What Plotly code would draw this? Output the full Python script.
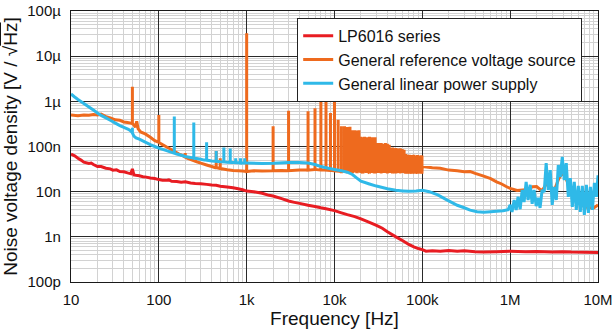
import plotly.graph_objects as go

# ---------------- data ----------------
# LP6016 series
red_f = [10, 11, 12, 13, 14, 16, 17, 18, 20, 22, 25, 28, 30, 33, 36, 40, 44, 48, 50, 52, 55, 60, 66, 72,
         80, 90, 100, 110, 120, 130, 140, 160, 180, 200, 230, 260, 300, 350, 400, 450, 500, 600, 700, 800,
         900, 1000, 1200, 1500, 1800, 2000, 2500, 3000, 3500, 4000, 5000, 6000, 7000, 8000, 10000, 12000,
         14000, 17000, 20000, 25000, 30000, 35000, 40000, 50000, 60000, 70000, 80000, 90000, 100000,
         110000, 130000, 160000, 200000, 250000, 300000, 400000, 500000, 700000, 1e6, 1.5e6, 2e6, 3e6,
         4e6, 5e6, 7e6, 1e7]
red_v = [6.8e-8, 6.2e-8, 5.5e-8, 5.0e-8, 4.5e-8, 4.2e-8, 4.3e-8, 4.0e-8, 3.6e-8, 3.6e-8, 3.3e-8, 3.2e-8,
         3.0e-8, 3.05e-8, 2.8e-8, 2.75e-8, 2.6e-8, 2.5e-8, 3.2e-8, 2.35e-8, 2.3e-8, 2.25e-8, 2.15e-8, 2.1e-8,
         2.0e-8, 1.95e-8, 1.85e-8, 1.8e-8, 1.78e-8, 1.82e-8, 1.7e-8, 1.68e-8, 1.62e-8, 1.65e-8, 1.55e-8,
         1.52e-8, 1.5e-8, 1.45e-8, 1.4e-8, 1.38e-8, 1.32e-8, 1.27e-8, 1.22e-8, 1.16e-8, 1.1e-8, 1.03e-8,
         1.0e-8, 9.2e-9, 8.3e-9, 8.0e-9, 7.0e-9, 6.2e-9, 5.8e-9, 5.5e-9, 5.0e-9, 4.7e-9, 4.4e-9, 4.2e-9,
         3.8e-9, 3.4e-9, 3.1e-9, 2.8e-9, 2.5e-9, 2.1e-9, 1.8e-9, 1.55e-9, 1.3e-9, 1.0e-9, 8.2e-10, 6.8e-10,
         6.0e-10, 5.5e-10, 5.2e-10, 4.8e-10, 4.9e-10, 4.8e-10, 5.0e-10, 4.8e-10, 4.9e-10, 4.7e-10, 4.6e-10,
         4.7e-10, 4.8e-10, 4.7e-10, 4.75e-10, 4.6e-10, 4.7e-10, 4.6e-10, 4.55e-10, 4.5e-10]

# General reference voltage source: underlying curve
orange_f = [10, 12, 14, 16, 18, 20, 22, 25, 28, 32, 36, 40, 44, 48, 52, 54, 56, 58, 62, 70, 80, 90, 98,
            102, 110, 120, 135, 150, 170, 190, 210, 240, 270, 300, 350, 400, 440, 520, 600, 700, 800, 900,
            990, 1200, 1500, 1990, 2500, 2990, 4000, 4990, 5990, 6990, 7990, 8990, 9990,
            100000, 130000, 160000, 200000, 250000, 300000, 350000, 380000, 400000, 500000, 600000,
            700000, 800000, 900000, 1e6, 1.2e6, 1.5e6, 1.8e6, 2.0e6, 2.3e6, 2.6e6, 2.8e6, 3.2e6, 3.6e6,
            4.0e6, 4.4e6, 5e6, 6e6, 7e6, 8e6, 9e6, 1e7]
orange_v = [5.0e-7, 4.8e-7, 5.0e-7, 4.9e-7, 5.1e-7, 5.0e-7, 5.2e-7, 4.6e-7, 4.3e-7, 3.9e-7, 3.8e-7, 3.5e-7,
            3.4e-7, 3.3e-7, 3.0e-7, 2.7e-7, 3.6e-7, 2.5e-7, 2.1e-7, 1.9e-7, 1.6e-7, 1.35e-7, 1.25e-7,
            1.2e-7, 1.1e-7, 1.0e-7, 8.8e-8, 7.8e-8, 6.8e-8, 6.2e-8, 5.5e-8, 5.0e-8, 4.6e-8, 4.3e-8, 3.9e-8,
            3.6e-8, 3.4e-8, 3.2e-8, 3.05e-8, 2.95e-8, 2.9e-8, 2.85e-8,
            2.8e-8, 2.9e-8, 2.85e-8, 2.9e-8, 2.95e-8, 2.9e-8, 3.0e-8, 3.0e-8, 3.1e-8, 3.0e-8, 3.0e-8,
            2.95e-8, 2.9e-8,
            3.6e-8, 3.4e-8, 3.3e-8, 3.0e-8, 2.9e-8, 2.75e-8, 2.8e-8, 2.65e-8, 2.55e-8, 2.2e-8, 1.95e-8,
            1.65e-8, 1.48e-8, 1.3e-8, 1.18e-8, 1.06e-8, 1.1e-8, 1.28e-8, 1.3e-8, 1.04e-8, 1.5e-8, 1.34e-8,
            1.1e-8, 2.0e-8, 2.7e-8, 1.8e-8, 9.8e-9, 6.5e-9, 4.6e-9, 4.4e-9, 4.4e-9, 5.1e-9]
# General reference voltage source: spurs (frequency, peak, floor)
orange_spur_f = [50, 100, 200, 450, 500, 1000, 2000, 3000, 5000, 6000, 7000, 8000, 9000, 10000,
                 11000, 12000, 13000, 14000, 15000, 16000, 17000, 18000, 19000, 20000, 21000, 22000,
                 23000, 24000, 25000, 26000, 27000, 28000, 29000, 30000, 32000, 34000, 36000, 38000,
                 40000, 42000, 44000, 46000, 48000, 50000, 53000, 56000, 59000, 62000, 65000, 68000,
                 71000, 74000, 77000, 80000, 84000, 88000, 92000, 96000, 99000]
orange_spur_peak = [2.1e-6, 5.0e-7, 7.2e-8, 8.0e-8, 5.5e-8, 3.2e-5, 2.8e-7, 6.2e-7, 6.0e-7, 7.0e-7,
                    1.0e-6, 1.4e-6, 5.5e-7, 1.45e-6,
                    3.9e-7, 2.8e-7, 2.8e-7, 2.7e-7, 2.75e-7, 2.3e-7, 2.3e-7, 2.25e-7, 2.3e-7, 1.65e-7,
                    1.6e-7, 1.65e-7, 1.6e-7, 1.6e-7, 1.65e-7, 1.6e-7, 1.6e-7, 1.55e-7, 1.6e-7, 1.2e-7,
                    1.2e-7, 1.2e-7, 1.15e-7, 1.2e-7, 1.15e-7, 1.1e-7, 9.3e-8, 9.5e-8, 9.0e-8, 9.3e-8,
                    9.0e-8, 9.2e-8, 8.8e-8, 8.5e-8, 6.8e-8, 6.5e-8, 6.6e-8, 6.5e-8, 6.4e-8, 6.6e-8,
                    6.3e-8, 6.5e-8, 6.2e-8, 6.4e-8, 6.3e-8]
orange_spur_floor = [3.2e-7, 1.25e-7, 5.8e-8, 3.4e-8, 3.25e-8, 2.8e-8, 2.9e-8, 2.9e-8, 3.0e-8, 3.1e-8,
                     3.0e-8, 3.0e-8, 2.95e-8, 2.9e-8,
                     2.85e-8, 2.8e-8, 2.9e-8, 2.8e-8, 2.85e-8, 2.8e-8, 2.9e-8, 2.8e-8, 2.85e-8, 2.8e-8,
                     2.75e-8, 2.85e-8, 2.8e-8, 2.8e-8, 2.75e-8, 2.85e-8, 2.8e-8, 2.8e-8, 2.75e-8, 2.8e-8,
                     2.8e-8, 2.75e-8, 2.8e-8, 2.8e-8, 2.75e-8, 2.8e-8, 2.8e-8, 2.75e-8, 2.8e-8, 2.75e-8,
                     2.8e-8, 2.75e-8, 2.8e-8, 2.75e-8, 2.7e-8, 2.75e-8, 2.7e-8, 2.75e-8, 2.7e-8, 2.75e-8,
                     2.7e-8, 2.7e-8, 2.75e-8, 2.7e-8, 2.7e-8]

# General linear power supply: underlying curve
blue_f = [10, 11, 12, 14, 16, 18, 20, 22, 25, 28, 32, 36, 40, 45, 48, 52, 55, 60, 70, 80, 90, 100, 120,
          140, 160, 180, 200, 230, 270, 300, 330, 400, 500, 600, 700, 800, 900, 1000, 1500, 2000, 3000,
          4000, 5000, 6000, 7000, 8500, 10000, 12000, 14000, 16000, 18000, 20000, 25000, 30000, 40000,
          50000, 60000, 70000, 85000, 100000, 120000, 150000, 190000, 250000, 300000, 350000, 420000,
          500000, 600000, 700000, 830000, 950000,
          1.00e6, 1.05e6, 1.11e6, 1.17e6, 1.23e6, 1.30e6, 1.37e6, 1.44e6, 1.52e6, 1.60e6, 1.69e6, 1.78e6,
          1.87e6, 1.98e6, 2.08e6, 2.19e6, 2.31e6, 2.44e6, 2.57e6, 2.71e6, 2.86e6, 3.01e6, 3.17e6, 3.35e6,
          3.53e6, 3.72e6, 3.92e6, 4.13e6, 4.35e6, 4.59e6, 4.84e6, 5.10e6, 5.37e6, 5.66e6, 5.97e6, 6.29e6,
          6.63e6, 6.99e6, 7.37e6, 7.77e6, 8.19e6, 8.63e6, 9.10e6, 9.59e6, 1.0e7]
blue_v = [1.45e-6, 1.25e-6, 1.1e-6, 9.0e-7, 7.5e-7, 6.4e-7, 5.5e-7, 4.9e-7, 4.3e-7, 3.8e-7, 3.3e-7, 2.9e-7,
          2.65e-7, 2.4e-7, 2.2e-7, 1.7e-7, 1.55e-7, 1.45e-7, 1.25e-7, 1.1e-7, 1.0e-7, 9.2e-8, 8.2e-8,
          7.4e-8, 6.8e-8, 6.4e-8, 6.0e-8, 5.7e-8, 5.4e-8, 5.2e-8, 5.0e-8, 4.8e-8, 4.6e-8, 4.5e-8, 4.4e-8,
          4.35e-8, 4.3e-8, 4.3e-8, 4.2e-8, 4.25e-8, 4.4e-8, 4.45e-8, 4.3e-8, 4.0e-8, 3.6e-8, 3.3e-8,
          3.1e-8, 2.9e-8, 2.7e-8, 2.4e-8, 2.0e-8, 1.7e-8, 1.48e-8, 1.33e-8, 1.16e-8, 1.07e-8, 1.04e-8,
          1.02e-8, 1.04e-8, 1.08e-8, 1.0e-8, 8.5e-9, 6.6e-9, 5.0e-9, 4.4e-9, 3.9e-9, 3.6e-9, 3.5e-9,
          3.6e-9, 3.7e-9, 3.8e-9, 4.0e-9,
          5.1e-9, 3.55e-9, 6.55e-9, 3.93e-9, 7.7e-9, 4.1e-9, 1.09e-8, 5.9e-9, 1.64e-8, 6.55e-9, 1.42e-8,
          5.4e-9, 1.09e-8, 4.8e-9, 7.3e-9, 4.36e-9, 1.09e-8, 9.8e-9, 4.3e-8, 1.09e-8, 3.0e-8, 5.1e-9,
          1.28e-8, 6.55e-9, 3.9e-8, 2.1e-8, 5.9e-8, 1.8e-8, 4.3e-8, 7.7e-9, 2.0e-8, 4.6e-9, 1.64e-8,
          3.93e-9, 1.34e-8, 3.55e-9, 1.34e-8, 3.05e-9, 1.42e-8, 3.37e-9, 1.28e-8, 3.93e-9, 1.56e-8,
          7.7e-9, 2.3e-8]
# General linear power supply: spurs (frequency, peak, floor)
blue_spur_f = [50, 150, 250, 350, 450, 550, 650, 750, 850, 950]
blue_spur_peak = [2.6e-7, 4.6e-7, 3.4e-7, 1.24e-7, 8.0e-8, 9.5e-8, 9.0e-8, 5.5e-8, 5.5e-8, 5.5e-8]
blue_spur_floor = [2.0e-7, 7.1e-8, 5.5e-8, 5.0e-8, 4.7e-8, 4.55e-8, 4.45e-8, 4.4e-8, 4.3e-8, 4.3e-8]

x_tick_vals = [10, 100, 1e3, 1e4, 1e5, 1e6, 1e7]
x_tick_text = ["10", "100", "1k", "10k", "100k", "1M", "10M"]
y_tick_vals = [1e-10, 1e-9, 1e-8, 1e-7, 1e-6, 1e-5, 1e-4]
y_tick_text = ["100p", "1n", "10n", "100n", "1µ", "10µ", "100µ"]

names = ["LP6016 series", "General reference voltage source", "General linear power supply"]
colors = ["#e81c22", "#ee6a1e", "#2fb9e8"]


def merge(base_f, base_v, spur_f=(), spur_peak=(), spur_floor=()):
    pts = list(zip(base_f, base_v))
    for f, p, fl in zip(spur_f, spur_peak, spur_floor):
        pts += [(f, fl), (f, p), (f, fl)]
    pts.sort(key=lambda t: t[0])  # stable sort keeps spur order
    return [p[0] for p in pts], [p[1] for p in pts]


rx, ry = merge(red_f, red_v)
ox, oy = merge(orange_f, orange_v, orange_spur_f, orange_spur_peak, orange_spur_floor)
bx, by = merge(blue_f, blue_v, blue_spur_f, blue_spur_peak, blue_spur_floor)

FONT = "Liberation Sans, Arial, Helvetica, sans-serif"

fig = go.Figure()
fig.add_trace(go.Scatter(x=rx, y=ry, mode="lines", name=names[0],
                         line=dict(color=colors[0], width=3, simplify=False)))
fig.add_trace(go.Scatter(x=ox, y=oy, mode="lines", name=names[1],
                         line=dict(color=colors[1], width=3, simplify=False)))
fig.add_trace(go.Scatter(x=bx, y=by, mode="lines", name=names[2],
                         line=dict(color=colors[2], width=3, simplify=False)))

minor_x = [m * 10 ** e for e in range(1, 7) for m in range(2, 10)]
minor_y = [m * 10.0 ** e for e in range(-10, -4) for m in range(2, 10)]

axis_common = dict(
    type="log",
    automargin=False,
    showgrid=True, gridcolor="#2a2a2a", gridwidth=1,
    showline=True, mirror=True, linecolor="#1a1a1a", linewidth=1.2,
    ticks="outside", tickcolor="rgba(0,0,0,0)",
    tickfont=dict(family=FONT, size=15, color="#111"),
    ticklabeloverflow="allow",
    zeroline=False,
)

fig.update_layout(
    width=612, height=331,
    margin=dict(l=71, r=14, t=11, b=49),
    paper_bgcolor="white", plot_bgcolor="white",
    font=dict(family=FONT, color="#111"),
    showlegend=True,
    legend=dict(x=0.970, y=0.975, xanchor="right", yanchor="top",
                bgcolor="white", bordercolor="#222", borderwidth=1,
                font=dict(family=FONT, size=16, color="#111"),
                tracegroupgap=0, itemwidth=30),
    xaxis=dict(axis_common, range=[1, 7], ticklen=4,
               tickvals=x_tick_vals, ticktext=x_tick_text,
               minor=dict(tickvals=minor_x, showgrid=True, gridcolor="#d2d2d2", gridwidth=1, ticks=""),
               title=dict(text="Frequency [Hz]", font=dict(family=FONT, size=19, color="#111"),
                          standoff=0)),
    yaxis=dict(axis_common, range=[-10, -4], ticklen=6,
               tickvals=y_tick_vals, ticktext=y_tick_text,
               minor=dict(tickvals=minor_y, showgrid=True, gridcolor="#d2d2d2", gridwidth=1, ticks=""),
               title=dict(text="Noise voltage density [V / √<span style='text-decoration:overline'>Hz</span>]",
                          font=dict(family=FONT, size=19, color="#111"), standoff=4)),
)

fig.write_html("out.html", config={"displayModeBar": False},
               post_script="document.body.style.margin='0px';document.body.style.padding='0px';")
